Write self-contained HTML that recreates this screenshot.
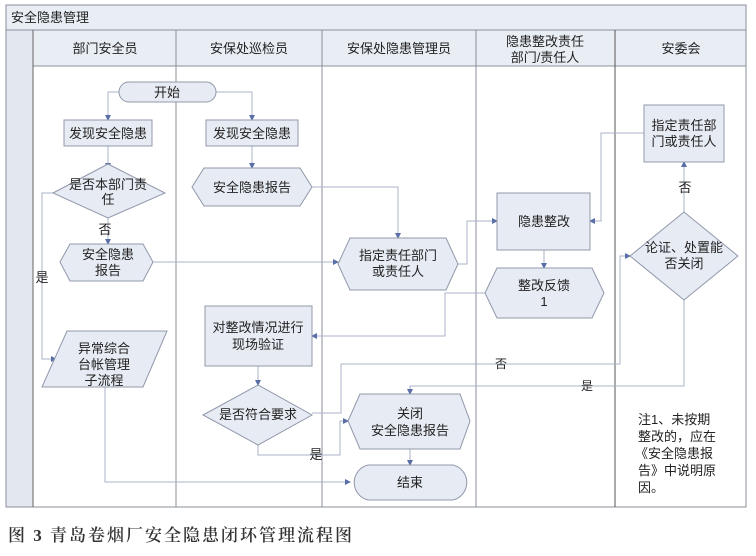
<!DOCTYPE html>
<html><head><meta charset="utf-8"><style>
html,body{margin:0;padding:0;background:#fff;}
svg{display:block;}
text{font-family:"Liberation Sans","Noto Sans CJK SC",sans-serif;font-size:13px;fill:#222;}
.cap{font-family:"Liberation Serif","Noto Serif CJK SC",serif;font-size:17px;fill:#333;letter-spacing:2px;font-weight:600;}
.s{fill:#e7ebf3;stroke:#9098aa;stroke-width:1;}
.l{fill:none;stroke:#aab3c8;stroke-width:1;}
</style></head><body>
<svg width="756" height="556" viewBox="0 0 756 556" xmlns="http://www.w3.org/2000/svg">
<defs><marker id="a" markerWidth="6" markerHeight="6" refX="5" refY="3" orient="auto" markerUnits="userSpaceOnUse"><path d="M0,0L6,3L0,6z" fill="#5a6ea8"/></marker></defs>
<rect x="6" y="5" width="740" height="502" fill="#fff" stroke="#8a8f9a"/>
<rect x="6" y="5" width="740" height="25" fill="#e9edf4" stroke="#8a8f9a"/>
<text x="11" y="22">安全隐患管理</text>
<rect x="6" y="30" width="27" height="477" fill="#e2e7f0" stroke="#8a8f9a"/>
<rect x="33" y="30" width="713" height="36" fill="#e9edf4" stroke="#8a8f9a"/>
<g stroke="#8a8f9a"><line x1="33" y1="30" x2="33" y2="507" stroke="#666"/><line x1="176" y1="30" x2="176" y2="507"/><line x1="322" y1="30" x2="322" y2="507"/><line x1="476" y1="30" x2="476" y2="507"/><line x1="615" y1="30" x2="615" y2="507" stroke="#555"/></g>
<g text-anchor="middle">
<text x="105" y="53">部门安全员</text>
<text x="249" y="53">安保处巡检员</text>
<text x="399" y="53">安保处隐患管理员</text>
<text x="545" y="46">隐患整改责任</text>
<text x="545" y="62">部门/责任人</text>
<text x="681" y="53">安委会</text>
</g>
<g class="l">
<path d="M119,92H108V120" marker-end="url(#a)"/>
<path d="M216,92H252V120" marker-end="url(#a)"/>
<path d="M108,146V168" marker-end="url(#a)"/>
<path d="M108,218V244" marker-end="url(#a)"/>
<path d="M53,193H42V359H56" marker-end="url(#a)"/>
<path d="M153,262H338" marker-end="url(#a)"/>
<path d="M252,146V168" marker-end="url(#a)"/>
<path d="M312,187H398V238" marker-end="url(#a)"/>
<path d="M458,264H467V221H497" marker-end="url(#a)"/>
<path d="M644,133H601V221H590" marker-end="url(#a)"/>
<path d="M544,250V268" marker-end="url(#a)"/>
<path d="M485,293H445V336H312" marker-end="url(#a)"/>
<path d="M258,366V385" marker-end="url(#a)"/>
<path d="M258,445V455H340V421H348" marker-end="url(#a)"/>
<path d="M312,413H341V364H620V256H630" marker-end="url(#a)"/>
<path d="M684,300V386H410V394" marker-end="url(#a)"/>
<path d="M684,212V162" marker-end="url(#a)"/>
<path d="M105,387V482H350" marker-end="url(#a)"/>
<path d="M410,449V465" marker-end="url(#a)"/>
</g>
<rect class="s" x="119" y="82" width="97" height="20" rx="10"/>
<text x="167" y="97" text-anchor="middle">开始</text>
<rect class="s" x="64" y="120" width="88" height="26"/>
<text x="108" y="138" text-anchor="middle">发现安全隐患</text>
<rect class="s" x="206" y="120" width="92" height="26"/>
<text x="252" y="138" text-anchor="middle">发现安全隐患</text>
<polygon class="s" points="53,193 108,164 165,193 108,218"/>
<text x="108" y="189" text-anchor="middle">是否本部门责</text>
<text x="108" y="204" text-anchor="middle">任</text>
<polygon class="s" points="192,187 204,168 300,168 312,187 300,206 204,206"/>
<text x="252" y="192" text-anchor="middle">安全隐患报告</text>
<text x="105" y="234" text-anchor="middle">否</text>
<polygon class="s" points="60,262 70,244 143,244 153,262 143,281 70,281"/>
<text x="108" y="259" text-anchor="middle">安全隐患</text>
<text x="108" y="275" text-anchor="middle">报告</text>
<text x="42" y="282" text-anchor="middle">是</text>
<polygon class="s" points="67,331 167,331 143,387 42,387"/>
<text x="104" y="353" text-anchor="middle">异常综合</text>
<text x="104" y="369" text-anchor="middle">台帐管理</text>
<text x="104" y="385" text-anchor="middle">子流程</text>
<rect class="s" x="205" y="306" width="107" height="60"/>
<text x="258" y="332" text-anchor="middle">对整改情况进行</text>
<text x="258" y="349" text-anchor="middle">现场验证</text>
<polygon class="s" points="203,415 258,385 312,415 258,445"/>
<text x="258" y="419" text-anchor="middle">是否符合要求</text>
<text x="316" y="459" text-anchor="middle">是</text>
<polygon class="s" points="338,264 350,238 446,238 458,264 446,290 350,290"/>
<text x="398" y="260" text-anchor="middle">指定责任部门</text>
<text x="398" y="276" text-anchor="middle">或责任人</text>
<polygon class="s" points="348,421 360,394 460,394 470,421 460,449 360,449"/>
<text x="410" y="418" text-anchor="middle">关闭</text>
<text x="410" y="435" text-anchor="middle">安全隐患报告</text>
<path class="s" d="M368,465H453A18,18 0 0 1 453,500H368A18,18 0 0 1 368,465Z"/>
<text x="410" y="487" text-anchor="middle">结束</text>
<rect class="s" x="497" y="193" width="93" height="57"/>
<text x="544" y="226" text-anchor="middle">隐患整改</text>
<polygon class="s" points="485,293 497,268 592,268 604,293 592,318 497,318"/>
<text x="544" y="290" text-anchor="middle">整改反馈</text>
<text x="544" y="306" text-anchor="middle">1</text>
<rect class="s" x="644" y="105" width="80" height="57"/>
<text x="684" y="130" text-anchor="middle">指定责任部</text>
<text x="684" y="146" text-anchor="middle">门或责任人</text>
<text x="685" y="192" text-anchor="middle">否</text>
<polygon class="s" points="630,256 684,212 738,256 684,300"/>
<text x="684" y="252" text-anchor="middle">论证、处置能</text>
<text x="684" y="268" text-anchor="middle">否关闭</text>
<text x="501" y="368" text-anchor="middle" style="font-size:12px">否</text>
<text x="587" y="390" text-anchor="middle" style="font-size:12px">是</text>
<g style="font-size:12.5px">
<text x="638" y="424">注1、未按期</text>
<text x="638" y="441">整改的，应在</text>
<text x="635" y="458">《安全隐患报</text>
<text x="638" y="475">告》中说明原</text>
<text x="638" y="492">因。</text>
</g>
<text class="cap" x="8" y="541">图 3 青岛卷烟厂安全隐患闭环管理流程图</text>
</svg>
</body></html>
